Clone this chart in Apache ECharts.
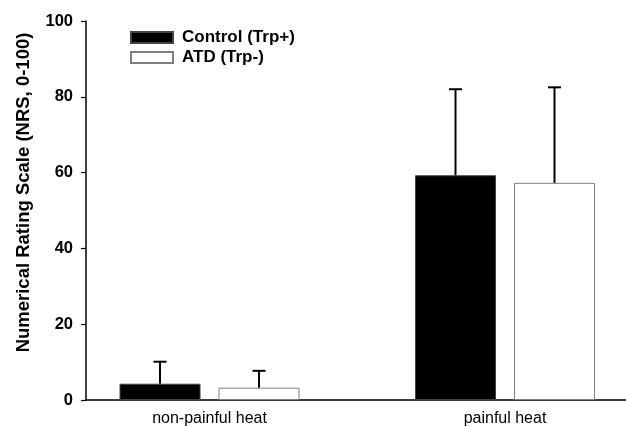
<!DOCTYPE html>
<html>
<head>
<meta charset="utf-8">
<script src="https://cdn.jsdelivr.net/npm/echarts@6/dist/echarts.min.js"></script>
<style>
html,body{margin:0;padding:0;background:#fff;}
#chart{width:626px;height:427px;}
</style>
</head>
<body>
<div id="chart"></div>
<script>
var categories = ['non-painful heat', 'painful heat'];
var seriesNames = ['Control (Trp+)', 'ATD (Trp-)'];
var controlMean = [4.3, 59.3];
var controlSD = [5.8, 22.7];
var atdMean = [3.25, 57.3];
var atdSD = [4.45, 25.2];
var yTicks = [0, 20, 40, 60, 80, 100];

var FONT = '"Liberation Sans", Arial, sans-serif';
var BAR_W = 81;
var GAP = 18;

function toPoints(vals) {
  return vals.map(function (v, i) { return [i + 1, v]; });
}
function errData(mean, sd) {
  return mean.map(function (m, i) { return [i + 1, m, m + sd[i]]; });
}
function errSeries(mean, sd, side) {
  return {
    type: 'custom',
    silent: true,
    z: 5,
    data: errData(mean, sd),
    renderItem: function (params, api) {
      var x = api.value(0);
      var base = api.coord([x, api.value(1)]);
      var top = api.coord([x, api.value(2)]);
      var cx = base[0] + side * (BAR_W + GAP) / 2;
      var half = 6.5;
      return {
        type: 'group',
        children: [
          { type: 'line', shape: { x1: cx, y1: base[1], x2: cx, y2: top[1] }, style: { stroke: '#000', lineWidth: 2 } },
          { type: 'line', shape: { x1: cx - half, y1: top[1], x2: cx + half, y2: top[1] }, style: { stroke: '#000', lineWidth: 2 } }
        ]
      };
    }
  };
}

var chart = echarts.init(document.getElementById('chart'), null, { renderer: 'canvas' });
chart.setOption({
  animation: false,
  backgroundColor: '#fff',
  grid: { left: 86, right: 0, top: 21, bottom: 27, containLabel: false, outerBoundsMode: 'none' },
  legend: {
    orient: 'vertical',
    left: 130,
    top: 29,
    padding: 0,
    itemWidth: 42,
    itemHeight: 11,
    itemGap: 3,
    icon: 'rect',
    textStyle: { fontFamily: FONT, fontWeight: 'bold', fontSize: 17, color: '#000', padding: [0, 0, 0, 4] },
    data: seriesNames
  },
  xAxis: {
    type: 'value',
    min: 0.582,
    max: 2.4095,
    splitLine: { show: false },
    axisLine: { show: true, lineStyle: { color: '#000', width: 1.5 } },
    axisTick: { show: false },
    axisLabel: {
      customValues: [1, 2],
      formatter: function (v) { return categories[Math.round(v) - 1] || ''; },
      fontFamily: FONT, fontSize: 16, color: '#000', margin: 11
    }
  },
  yAxis: {
    type: 'value',
    min: 0,
    max: 100,
    interval: 20,
    name: 'Numerical Rating Scale (NRS, 0-100)',
    nameLocation: 'middle',
    nameGap: 53,
    nameTextStyle: { fontFamily: FONT, fontWeight: 'bold', fontSize: 18.5, color: '#000', padding: [0, 0, 0, 36] },
    splitLine: { show: false },
    axisLine: { show: true, lineStyle: { color: '#000', width: 1.5 } },
    axisTick: { show: true, inside: false, length: 5, lineStyle: { color: '#000', width: 1.2 } },
    axisLabel: {
      customValues: yTicks,
      fontFamily: FONT, fontWeight: 'bold', fontSize: 16.5, color: '#000', margin: 13
    }
  },
  series: [
    {
      name: seriesNames[0], type: 'bar', barWidth: BAR_W, barGap: (GAP / BAR_W * 100).toFixed(1) + '%',
      itemStyle: { color: '#000', borderColor: '#444', borderWidth: 1 },
      data: toPoints(controlMean)
    },
    {
      name: seriesNames[1], type: 'bar', barWidth: BAR_W,
      itemStyle: { color: '#fff', borderColor: '#808080', borderWidth: 1 },
      data: toPoints(atdMean)
    },
    errSeries(controlMean, controlSD, -1),
    errSeries(atdMean, atdSD, 1)
  ]
});
</script>
</body>
</html>
